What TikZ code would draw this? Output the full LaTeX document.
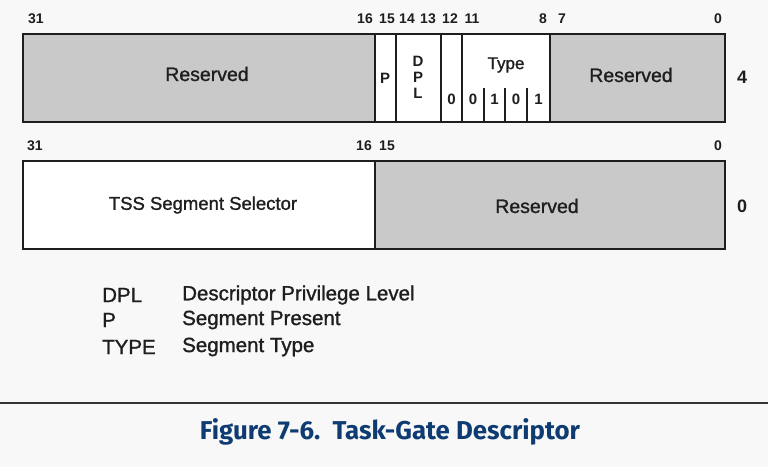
\documentclass[tikz,border=0pt]{standalone}
\usepackage{fontspec}
\setmainfont{Liberation Sans}
\newfontfamily\heavy{Liberation Sans}[FakeBold=1.2]
\newfontfamily\capfont{Fira Sans}
\definecolor{bgc}{HTML}{F8F8F8}
\definecolor{fillg}{HTML}{C9C9C9}
\definecolor{ink}{HTML}{1E1E1E}
\definecolor{capblue}{HTML}{0F3B73}
\begin{document}
\begin{tikzpicture}[x=1pt,y=-1pt,
  field/.style={draw=ink, line width=1.6pt, rectangle, inner sep=0pt, outer sep=0pt, anchor=north west, minimum height=88pt},
  gray/.style={fill=fillg},
  wht/.style={fill=white},
  ftext/.style={text=ink, inner sep=0pt, font=\heavy\fontsize{18.5}{18.5}\selectfont},
  small/.style={text=ink, inner sep=0pt, font=\fontsize{15}{15}\selectfont\bfseries},
  bitnum/.style={text=ink, inner sep=0pt, font=\fontsize{14}{14}\selectfont\bfseries},
  offs/.style={text=ink, inner sep=0pt, font=\fontsize{18}{18}\selectfont\bfseries},
  legend/.style={text=ink, inner sep=0pt, anchor=west, font=\heavy\fontsize{20.5}{20.5}\selectfont},
  sub/.style={draw=ink, line width=1.4pt}]
\useasboundingbox (0,0) rectangle (768,467);
\fill[bgc] (0,0) rectangle (768,467);

% top row (offset 4)
\node[field,gray,minimum width=352pt] (res1) at (23,34) {};
\node[field,wht,minimum width=21pt] (pf) at (375,34) {};
\node[field,wht,minimum width=45pt] (dpl) at (396,34) {};
\node[field,wht,minimum width=21pt] (zf) at (441,34) {};
\node[field,wht,minimum width=88pt] (typ) at (462,34) {};
\node[field,gray,minimum width=175pt] (res2) at (550,34) {};

\node[ftext, font=\heavy\fontsize{19.5}{19.5}\selectfont] (t1) at (207,74) {Reserved};
\node[small] (tp) at (385,78) {P};
\node[small] (td) at (418,61) {D};
\node[small] (tdp) at (418,77) {P};
\node[small] (tl) at (418,93) {L};
\node[small] (tz) at (451.5,99) {0};
\node[ftext, font=\heavy\fontsize{17}{17}\selectfont] (tt) at (506,65) {Type};
\node[small] (b3) at (473,99) {0};
\node[small] (b2) at (494.5,99) {1};
\node[small] (b1) at (516,99) {0};
\node[small] (b0) at (538.5,99) {1};
\node[ftext, font=\heavy\fontsize{19.5}{19.5}\selectfont] (t2) at (631,75) {Reserved};

\coordinate (s1t) at (484,88); \coordinate (s1b) at (484,122);
\coordinate (s2t) at (505,88); \coordinate (s2b) at (505,122);
\coordinate (s3t) at (527,88); \coordinate (s3b) at (527,122);
\draw[sub] (s1t) -- (s1b);
\draw[sub] (s2t) -- (s2b);
\draw[sub] (s3t) -- (s3b);

\node[bitnum] (n31a) at (36,19) {31};
\node[bitnum] (n16a) at (365,19) {16};
\node[bitnum] (n15a) at (387,19) {15};
\node[bitnum] (n14a) at (407,19) {14};
\node[bitnum] (n13a) at (428,19) {13};
\node[bitnum] (n12a) at (450,19) {12};
\node[bitnum] (n11a) at (472,19) {11};
\node[bitnum] (n8a) at (543,19) {8};
\node[bitnum] (n7a) at (562,19) {7};
\node[bitnum] (n0a) at (718,19) {0};
\node[offs] (o4) at (742,77) {4};

% second row (offset 0)
\node[field,wht,minimum width=352pt] (tss) at (23,161) {};
\node[field,gray,minimum width=350pt] (res3) at (375,161) {};
\node[ftext] (t3) at (203,205) {TSS Segment Selector};
\node[ftext, font=\heavy\fontsize{19.5}{19.5}\selectfont] (t4) at (537,206) {Reserved};

\node[bitnum] (n31b) at (35,146) {31};
\node[bitnum] (n16b) at (364,146) {16};
\node[bitnum] (n15b) at (387,146) {15};
\node[bitnum] (n0b) at (718,146) {0};
\node[offs] (o0) at (742,206) {0};

% legend
\node[legend] (l1a) at (102,295) {DPL};
\node[legend] (l1b) at (182,295) {Descriptor Privilege Level};
\node[legend] (l2a) at (102,320) {P};
\node[legend] (l2b) at (182,320) {Segment Present};
\node[legend] (l3a) at (102,347) {TYPE};
\node[legend] (l3b) at (182,347) {Segment Type};

% caption
\coordinate (rl) at (0,403); \coordinate (rr) at (768,403);
\draw[line width=2.2pt, draw=ink!90] (rl) -- (rr);
\node[inner sep=0pt, text=capblue] (cap) at (390,432) {\resizebox{380pt}{!}{\capfont\bfseries\fontsize{24}{24}\selectfont Figure 7-6.\ \ Task-Gate Descriptor}};
\end{tikzpicture}
\end{document}
